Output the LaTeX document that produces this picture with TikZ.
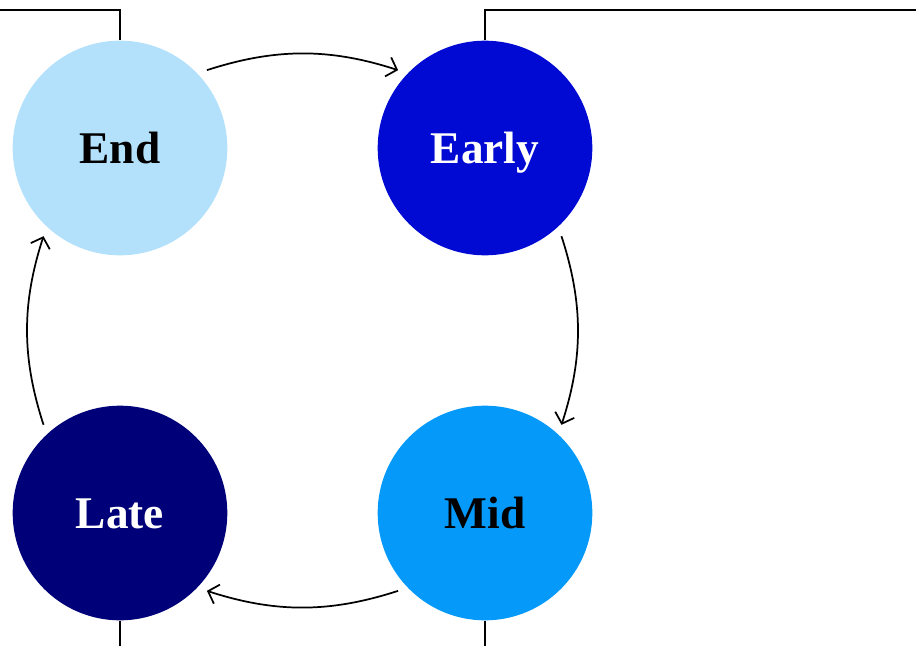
\documentclass[tikz,border=0pt]{standalone}
\usepackage{fontspec}
\setmainfont{Liberation Serif}
\usetikzlibrary{arrows.meta}
\definecolor{cEnd}{RGB}{179,224,250}
\definecolor{cEarly}{RGB}{0,10,210}
\definecolor{cMid}{RGB}{5,153,250}
\definecolor{cLate}{RGB}{0,0,120}
\tikzset{
  phase/.style={circle, minimum size=161pt, inner sep=0pt, text height=23pt, text depth=0pt,
    font=\fontsize{34}{40}\selectfont\bfseries},
  link/.style={line width=1.3pt, shorten <=7.5pt, shorten >=7.5pt,
    -{Straight Barb[length=7pt,width=15pt]}},
  frame/.style={line width=1.1pt}
}
\begin{document}
\begin{tikzpicture}[x=0.75pt,y=-0.75pt]
\useasboundingbox (0,0) rectangle (916,646);
\node[phase, fill=cEnd, text=black] (end) at (120,148) {End};
\node[phase, fill=cEarly, text=white] (early) at (485,148) {Early};
\node[phase, fill=cMid, text=black] (mid) at (485,513) {Mid};
\node[phase, fill=cLate, text=white] (late) at (120,513) {Late};
\coordinate (tl0) at (0,10);
\coordinate (tl1) at (120,10);
\coordinate (tr1) at (485,10);
\coordinate (tr2) at (916,10);
\coordinate (bl) at (120,646);
\coordinate (br) at (485,646);
\draw[frame] (tl0) -- (tl1) -- (end.north);
\draw[frame] (early.north) -- (tr1) -- (tr2);
\draw[frame] (late.south) -- (bl);
\draw[frame] (mid.south) -- (br);
\draw[link] (end.44) to[bend left=18] (early.136);
\draw[link] (early.-47) to[bend left=18] (mid.47);
\draw[link] (mid.-136) to[bend left=18] (late.-44);
\draw[link] (late.133) to[bend left=18] (end.-133);
\end{tikzpicture}
\end{document}
